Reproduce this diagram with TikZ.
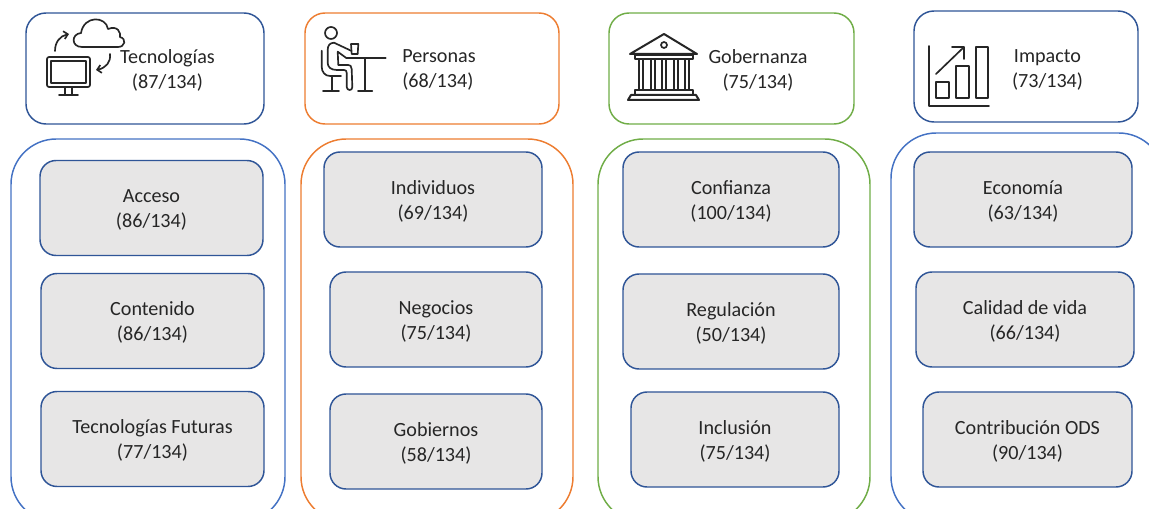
\documentclass[tikz,border=0pt]{standalone}
\usepackage{fontspec}
\setmainfont{Carlito}
\usetikzlibrary{arrows.meta}
\definecolor{Cardblue}{HTML}{2F5597}
\definecolor{Groupblue}{HTML}{4472C4}
\definecolor{Cardorange}{HTML}{ED7D31}
\definecolor{Cardgreen}{HTML}{70AD47}
\definecolor{Cardgrey}{HTML}{E7E6E6}
\definecolor{Inktext}{HTML}{262626}
\tikzstyle{topbox} = [
    rectangle, rounded corners=15pt,
    minimum height=83.25pt,
    line width=1.1pt,
    fill=white
]
\tikzstyle{groupbox} = [
    rectangle, rounded corners=34pt,
    minimum height=287.25pt,
    line width=1.1pt,
    fill=white
]
\tikzstyle{itembox} = [
    rectangle, rounded corners=12pt,
    minimum height=71.25pt,
    align=center,
    text=Inktext,
    draw=Cardblue,
    line width=1.1pt,
    fill=Cardgrey,
    execute at begin node={\rule{0pt}{32pt}}
]
\tikzstyle{caption} = [
    align=center,
    text=Inktext
]
\tikzstyle{icon} = [
    line width=1.25pt,
    draw=black!85,
    line cap=round,
    line join=round
]
\begin{document}
\begin{tikzpicture}[x=0.75pt, y=-0.75pt, font=\fontsize{15.1}{18.75}\selectfont]

    \useasboundingbox (0,0) rectangle (1149,509);

    % columns, back to front
    \node (groupTech)  [groupbox, draw=Groupblue,  minimum width=205.5pt] at (148,330.5)  {};
    \node (groupPeople)[groupbox, draw=Cardorange, minimum width=204pt]   at (437,330.5)  {};
    \node (groupGov)   [groupbox, draw=Cardgreen,  minimum width=204pt]   at (734,330.5)  {};
    \node (groupImpact)[groupbox, draw=Groupblue,  minimum width=204.75pt, minimum height=291.75pt] at (1027.5,327.5) {};

    \node (topTech)    [topbox, draw=Cardblue,   minimum width=178.5pt]  at (145,68.5)    {};
    \node (topPeople)  [topbox, draw=Cardorange, minimum width=190.5pt]  at (432,68.5)    {};
    \node (topGov)     [topbox, draw=Cardgreen,  minimum width=183.75pt] at (731.5,68.5)  {};
    \node (topImpact)  [topbox, draw=Cardblue,   minimum width=168pt]    at (1026,66.5)   {};

    \node (capTech)    [caption]             at (167.5,70)  {Tecnologías\\(87/134)};
    \node (capPeople)  [caption, align=left] at (439,70)    {Personas\\(68/134)};
    \node (capGov)     [caption]             at (758,70)    {Gobernanza\\(75/134)};
    \node (capImpact)  [caption]             at (1047.5,70) {Impacto\\(73/134)};

    \node (acceso)     [itembox, minimum width=167.25pt] at (151.5,208)   {Acceso\\(86/134)};
    \node (contenido)  [itembox, minimum width=167.25pt] at (152.5,321)   {Contenido\\(86/134)};
    \node (futuras)    [itembox, minimum width=167.25pt] at (152.5,439)   {Tecnologías Futuras\\(77/134)};

    \node (individuos) [itembox, minimum width=163.5pt]  at (433,199.5)   {Individuos\\(69/134)};
    \node (negocios)   [itembox, minimum width=159pt]    at (436,319.5)   {Negocios\\(75/134)};
    \node (gobiernos)  [itembox, minimum width=159pt]    at (436,441.5)   {Gobiernos\\(58/134)};

    \node (confianza)  [itembox, minimum width=162pt]    at (731,199.5)   {Confianza\\(100/134)};
    \node (regulacion) [itembox, minimum width=162pt]    at (731,321.5)   {Regulación\\(50/134)};
    \node (inclusion)  [itembox, minimum width=156pt]    at (735,439.5)   {Inclusión\\(75/134)};

    \node (economia)   [itembox, minimum width=163.5pt]  at (1023,199.5)  {Economía\\(63/134)};
    \node (calidad)    [itembox, minimum width=163.5pt]  at (1025,319.5)  {Calidad de vida\\(66/134)};
    \node (ods)        [itembox, minimum width=156.75pt] at (1027.5,439.5){Contribución ODS\\(90/134)};

    % monitor and cloud
    \draw [icon, rounded corners=1.5pt] (47,57) rectangle (90,87);
    \draw [icon] (51,61) rectangle (86,83);
    \draw [icon] (65,87) -- (65,94) (72,87) -- (72,94) (59,95) -- (78,95);
    \draw [icon] (118,47) -- (82,47) .. controls (71,47) and (71,34) .. (81,33)
                 .. controls (84,15) and (106,16) .. (108,29)
                 .. controls (118,25) and (121,33) .. (120,37)
                 .. controls (127,39) and (125,47) .. (118,47);
    \draw [icon, -{Straight Barb[length=3pt]}] (55,51) .. controls (55,42) and (60,36) .. (69,34);
    \draw [icon, -{Straight Barb[length=3pt]}] (110,54) .. controls (111,62) and (106,68) .. (96,70);

    % person at a table
    \draw [icon] (331,33) circle (6);
    \draw [icon] (321.7,50.7) -- (321.7,66.7) .. controls (321.7,72) and (325,76) .. (330,76) -- (341,76);
    \draw [icon] (331.7,76) -- (331.7,90.7) (323,90.7) -- (339,90.7);
    \draw [icon] (334,42.7) .. controls (330,43) and (327.7,45) .. (327.7,50) -- (327.7,63)
                 .. controls (327.7,67) and (331,70) .. (336.7,70) -- (344,70)
                 .. controls (346,70) and (346.7,71) .. (346.7,73) -- (346.7,87)
                 .. controls (347,91) and (352.5,91) .. (352.3,87) -- (351.7,69)
                 .. controls (351.7,66) and (350,65) .. (348.3,65) -- (338.3,65) -- (337.7,51.7) -- (346.7,58.3);
    \draw [icon] (334,42.7) -- (351,50.7);
    \draw [icon] (351,44) -- (358.3,44) -- (357.7,54) -- (351.7,54) -- cycle;
    \draw [icon] (346.7,58.3) -- (385.7,58.3) (365,58.3) -- (365,90.7) (358,90.7) -- (372.3,90.7);

    % bank building
    \draw [icon, line width=1.5pt] (630,54) -- (664,34) -- (697,54) -- cycle;
    \draw [icon] (664,45) circle (3);
    \draw [icon] (635,55) rectangle (693,59);
    \foreach \colx in {639,651,662,674,685}
        \draw [icon] (\colx,60) -- (\colx,90) (\colx+4,60) -- (\colx+4,90);
    \draw [icon] (635,90) rectangle (693,95);
    \draw [icon, line width=1.5pt] (628,100) -- (631,95) -- (696,95) -- (699,100) -- cycle;

    % bar chart
    \draw [icon] (929,46) -- (929,106) -- (989,106);
    \draw [icon] (936,82) rectangle (949,98);
    \draw [icon] (956,66) rectangle (969,98);
    \draw [icon] (976,47) rectangle (988,98);
    \draw [icon] (936,74) -- (964,47) (952,47) -- (964,47) -- (964,59);

\end{tikzpicture}
\end{document}
